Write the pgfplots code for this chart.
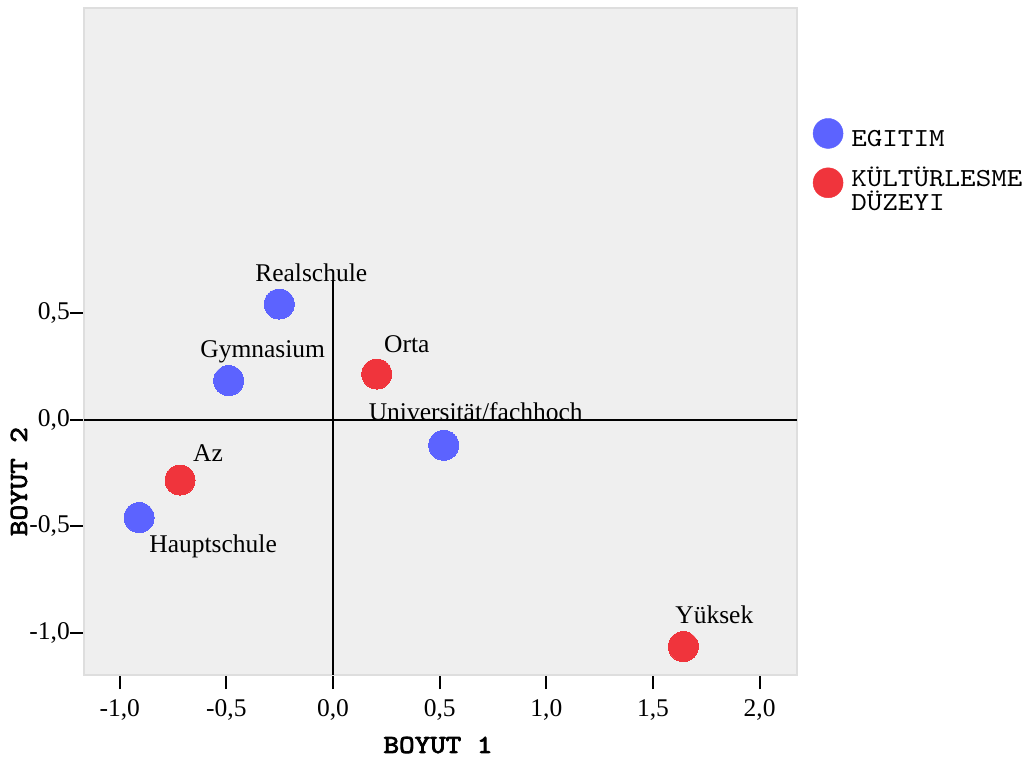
\documentclass[border=0pt]{standalone}
\usepackage{pgfplots}
\pgfplotsset{compat=1.18}
\usepackage{pgfplotstable}
\usepackage{fontspec}
\setmainfont{Liberation Serif}
\newfontfamily\courfont{lmmono10-regular.otf}[FakeStretch=1.14]
\newfontfamily\courboldfont{lmmono10-regular.otf}[FakeStretch=1.14, FakeBold=3]

\definecolor{egitim}{RGB}{92,99,255}
\definecolor{kultur}{RGB}{240,52,60}
\definecolor{panel}{RGB}{239,239,239}
\definecolor{panelborder}{RGB}{222,222,222}

% category points: coordinates, label offset (bp), label text
\pgfplotstableread{
x y dx dy label
-0.252 0.542 32 23 Realschule
-0.489 0.183 34 23 Gymnasium
-0.909 -0.459 74 -35 Hauptschule
0.519 -0.120 32 25 Universität/fachhoch
}\egitimdata
\pgfplotstableread{
x y dx dy label
0.205 0.214 30 22 Orta
-0.717 -0.283 28 19 Az
1.642 -1.064 31 23 Yüksek
}\kulturdata

\newcommand\serifsize{\fontsize{25.5bp}{30bp}\selectfont}
\newcommand\monosize{\courfont\fontsize{26bp}{24bp}\selectfont}
\newcommand\monoboldsize{\courboldfont\fontsize{26bp}{24bp}\selectfont}

\pgfplotsset{
  labelled points/.style={
    only marks, mark=*, mark size=15bp, color=#1,
    mark options={draw=#1, line width=0pt, fill=#1},
    point meta=explicit symbolic,
    nodes near coords,
    visualization depends on={\thisrow{dx} \as \ldx},
    visualization depends on={\thisrow{dy} \as \ldy},
    every node near coord/.append style={font=\serifsize, anchor=base,
      xshift=\ldx*1bp, yshift=\ldy*1bp, inner sep=0pt, text=black},
  },
}

\begin{document}
\begin{tikzpicture}
\path[use as bounding box] (0,0) rectangle (1029bp,758bp);
\begin{axis}[
  at={(84bp,83bp)}, anchor=south west,
  scale only axis, width=713bp, height=667bp,
  xmin=-1.1674, xmax=2.175,
  ymin=-1.197, ymax=1.930,
  axis background/.style={fill=panel},
  axis line style={draw=panelborder, line width=1.2bp},
  xtick={-1,-0.5,0,0.5,1,1.5,2},
  xticklabels={{-1,0},{-0,5},{0,0},{0,5},{1,0},{1,5},{2,0}},
  ytick={-1,-0.5,0,0.5},
  yticklabels={{-1,0},{-0,5},{0,0},{0,5}},
  xtick pos=bottom, ytick pos=left,
  tick align=outside,
  major tick length=14bp,
  tick style={black, line width=2bp},
  ticklabel style={font=\serifsize, inner sep=0pt},
  xticklabel style={anchor=north, yshift=-10bp},
  yticklabel style={anchor=east, xshift=0bp},
  xlabel={BOYUT 1}, ylabel={BOYUT 2},
  label style={font=\monoboldsize},
  xlabel style={at={(axis description cs:0.4965,-0.105)}, anchor=center},
  ylabel style={at={(axis description cs:-0.0912,0.29)}, anchor=center},
  legend style={at={(axis description cs:1.022,0.835)}, anchor=north west,
    draw=none, fill=none, font=\monosize, inner sep=0pt,
    row sep=15bp, column sep=6bp,
    cells={anchor=west, align=left}},
]
% reference lines through the origin
\addplot[black, line width=2bp, forget plot] coordinates {(0,0.655) (0,-1.197)};
\addplot[black, line width=2bp, forget plot] coordinates {(-1.1674,0) (2.175,0)};

\addplot[labelled points=egitim,
  legend image code/.code={\fill[egitim] (0bp,6bp) circle (15bp);}]
  table[x=x, y=y, meta=label] {\egitimdata};
\addlegendentry{EGITIM}

\addplot[labelled points=kultur,
  legend image code/.code={\fill[kultur] (0bp,7bp) circle (15bp);}]
  table[x=x, y=y, meta=label] {\kulturdata};
\addlegendentry{KÜLTÜRLESME\\DÜZEYI}
\end{axis}
\end{tikzpicture}
\end{document}
